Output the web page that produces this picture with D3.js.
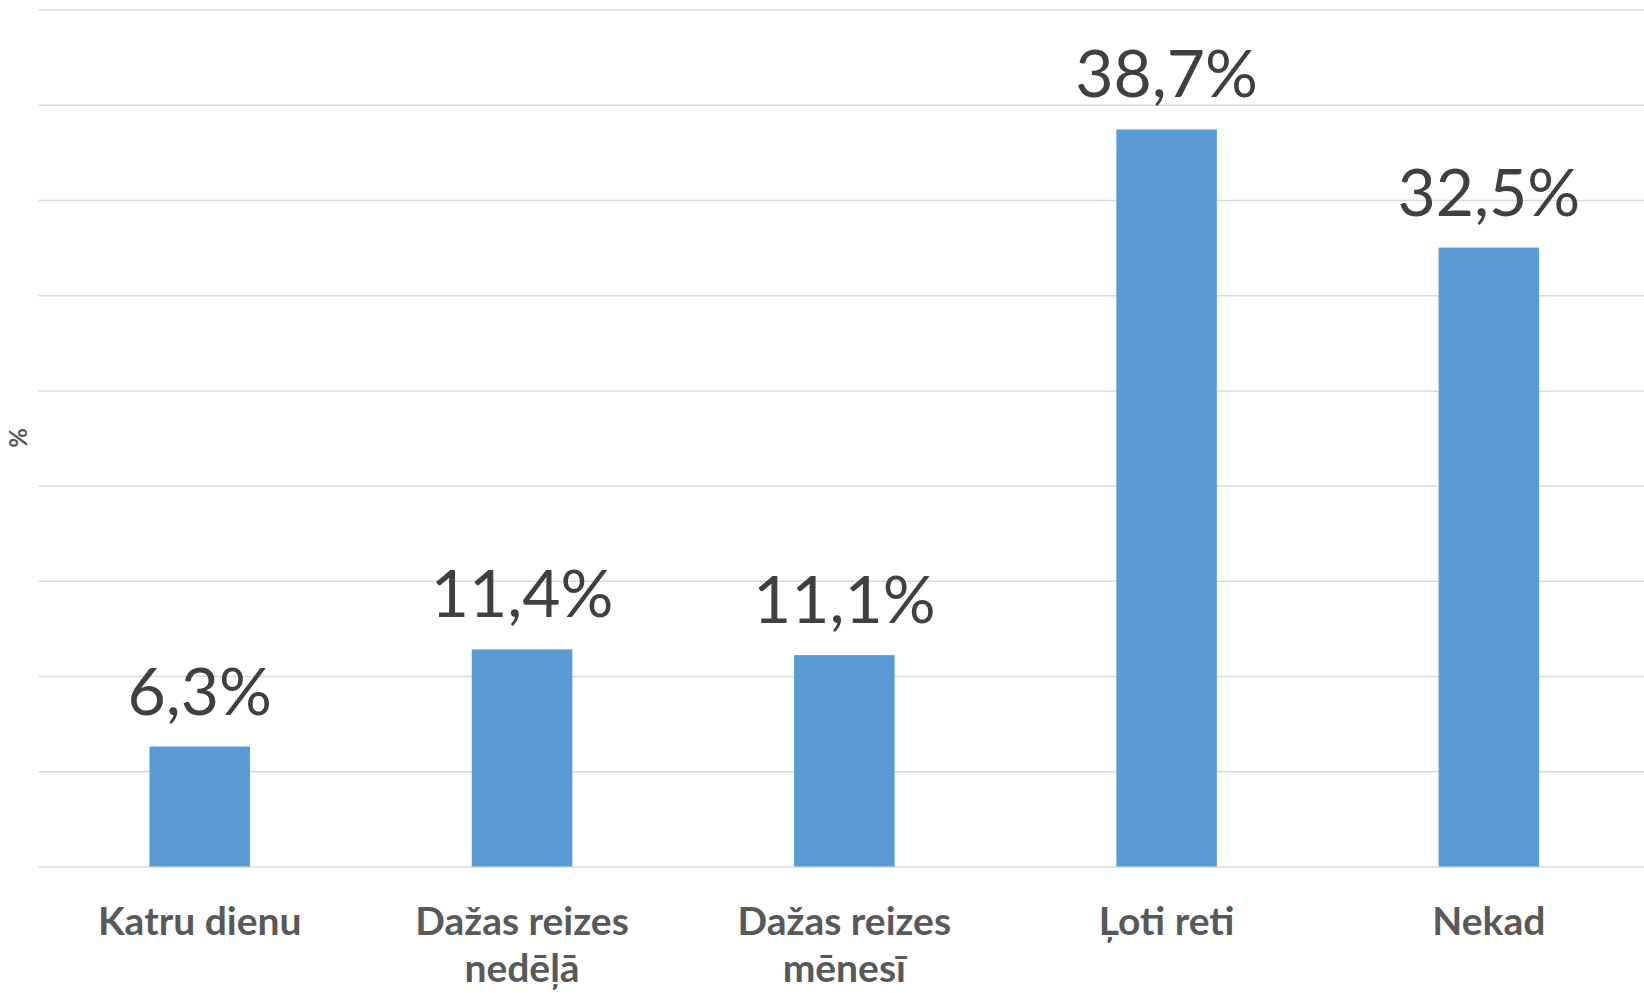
<!DOCTYPE html>
<html>
<head>
    <meta charset="utf-8">
    <title>Bar chart</title>
    <script src="https://d3js.org/d3.v7.min.js"></script>
</head>
<style>
    body {
        margin: 0;
        background: #fff;
    }
    .grid line {
        stroke: #d9d9d9;
        stroke-width: 1.5px;
    }
    .grid path {
        display: none;
    }
    .value-label {
        font-family: Lato, "Open Sans", sans-serif;
        fill: #404040;
    }
    .cat-label {
        font-family: Lato, "Open Sans", sans-serif;
        font-weight: bold;
        fill: #595959;
    }
</style>
<body>
<script>

    // data
    var categories = ["Katru dienu", "Dažas reizes nedēļā", "Dažas reizes mēnesī", "Ļoti reti", "Nekad"];
    var labelLines = [["Katru dienu"], ["Dažas reizes", "nedēļā"], ["Dažas reizes", "mēnesī"], ["Ļoti reti"], ["Nekad"]];
    var values = [6.3, 11.4, 11.1, 38.7, 32.5];
    var valueLabels = ["6,3%", "11,4%", "11,1%", "38,7%", "32,5%"];
    var yTicks = [0, 5, 10, 15, 20, 25, 30, 35, 40, 45];

    var W = 1644, H = 993;
    var plot = {left: 38.6, right: 1650, top: 9.5, bottom: 866.5};

    var svg = d3.select("body").append("svg")
        .attr("width", W)
        .attr("height", H);

    var x = d3.scaleBand()
        .domain(categories)
        .range([plot.left, plot.right])
        .paddingInner(0.688)
        .paddingOuter(0.344);

    var y = d3.scaleLinear()
        .domain([0, 45])
        .range([plot.bottom, plot.top]);

    // horizontal gridlines
    svg.append("g")
        .attr("class", "grid")
        .attr("transform", "translate(" + plot.left + ",0)")
        .call(d3.axisLeft(y)
            .tickValues(yTicks)
            .tickSize(-(plot.right - plot.left))
            .tickFormat(""));

    // bars
    svg.selectAll(".bar")
        .data(values)
        .enter().append("rect")
        .attr("class", "bar")
        .attr("x", function(d, i) { return x(categories[i]); })
        .attr("width", x.bandwidth())
        .attr("y", function(d) { return y(d); })
        .attr("height", function(d) { return y(0) - y(d); })
        .attr("fill", "#5b9bd5");

    // value labels
    svg.selectAll(".value-label")
        .data(values)
        .enter().append("text")
        .attr("class", "value-label")
        .attr("x", function(d, i) { return x(categories[i]) + x.bandwidth() / 2; })
        .attr("y", function(d) { return y(d) - 32; })
        .attr("text-anchor", "middle")
        .style("font-size", "66px")
        .text(function(d, i) { return valueLabels[i]; });

    // category labels
    var cat = svg.selectAll(".cat-label")
        .data(categories)
        .enter().append("text")
        .attr("class", "cat-label")
        .attr("text-anchor", "middle")
        .style("font-size", "39px")
        .attr("transform", function(d) {
            return "translate(" + (x(d) + x.bandwidth() / 2) + ",935)";
        });

    cat.selectAll("tspan")
        .data(function(d, i) { return labelLines[i]; })
        .enter().append("tspan")
        .attr("x", 0)
        .attr("y", function(d, i) { return i * 47; })
        .text(function(d) { return d; });

    // y axis title
    svg.append("text")
        .attr("class", "cat-label")
        .attr("text-anchor", "middle")
        .attr("transform", "translate(27," + ((plot.top + plot.bottom) / 2) + ") rotate(-90)")
        .style("font-size", "24px")
        .text("%");

</script>
</body>
</html>
